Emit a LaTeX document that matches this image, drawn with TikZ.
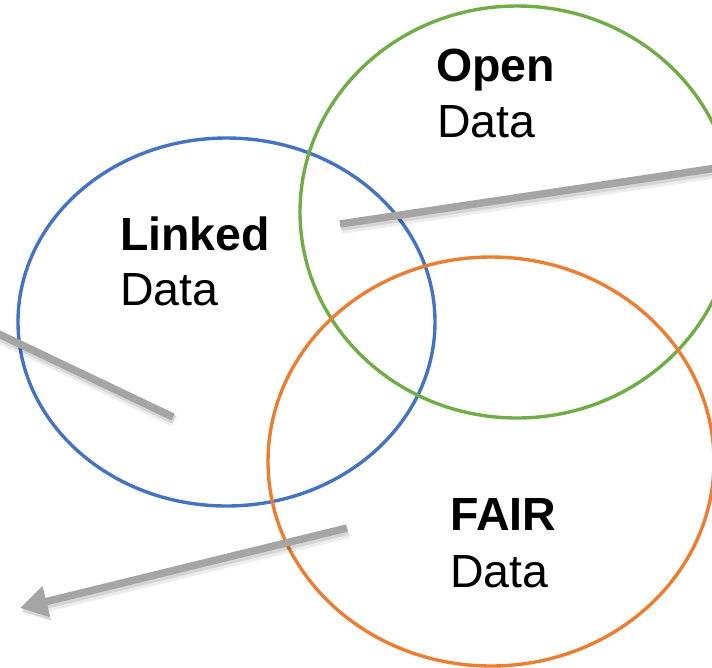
\documentclass[tikz,border=0pt]{standalone}
\usepackage{fontspec}
\setmainfont{Liberation Sans}
\usetikzlibrary{shapes.geometric,arrows.meta}

\definecolor{linkedblue}{HTML}{4472C4}
\definecolor{opengreen}{HTML}{70AD47}
\definecolor{fairorange}{HTML}{ED7D31}
\definecolor{pointergray}{HTML}{A5A5A5}

\tikzset{
  set/.style={ellipse, draw=#1, line width=3.4pt, inner sep=0pt},
  title/.style={anchor=base west, inner sep=0pt, font=\fontsize{46.5}{56}\selectfont\bfseries},
  subtitle/.style={anchor=base west, inner sep=0pt, font=\fontsize{46.5}{56}\selectfont},
  pointer/.style={draw=pointergray, line width=7.5pt, line cap=butt,
    preaction={draw=black, opacity=0.07, line width=12pt, transform canvas={shift={(1.5pt,-4pt)}}},
    preaction={draw=black, opacity=0.10, line width=8pt, transform canvas={shift={(1pt,-3pt)}}}},
}

\begin{document}
\begin{tikzpicture}[x=1pt, y=-1pt]
  \useasboundingbox (0,0) rectangle (712,667);
  \clip (0,0) rectangle (712,667);

  % the three sets
  \node[set=linkedblue, minimum width=417pt, minimum height=368pt] (linked) at (226.5,322) {};
  \node[set=opengreen, minimum width=434pt, minimum height=412pt] (open) at (517,212) {};
  \node[set=fairorange, minimum width=446pt, minimum height=409pt] (fair) at (491,461.5) {};

  % labels
  \node[title] (openT) at (436,81) {Open};
  \node[subtitle] (openD) at (437,137) {Data};
  \node[title] (linkedT) at (120,250) {Linked};
  \node[subtitle] (linkedD) at (120,305) {Data};
  \node[title] (fairT) at (450,530) {FAIR};
  \node[subtitle] (fairD) at (450,587) {Data};

  % pointer ends
  \coordinate (p1s) at (340,224);
  \coordinate (p1e) at (730,166);
  \coordinate (p2s) at (173,417);
  \coordinate (p2e) at (-20,325);
  \coordinate (p3s) at (347,528);
  \coordinate (p3e) at (20,608);

  % pointers
  \draw[pointer] (p1s) -- (p1e);
  \draw[pointer] (p2s) -- (p2e);
  \draw[pointer, -{Triangle[length=27pt, width=30pt]}] (p3s) -- (p3e);
\end{tikzpicture}
\end{document}
